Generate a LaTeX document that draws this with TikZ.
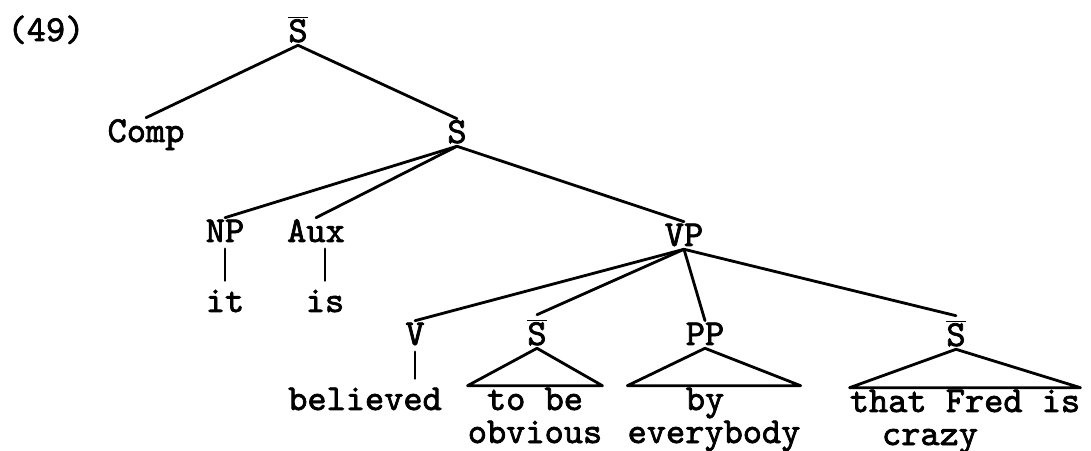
\documentclass[tikz,border=0pt]{standalone}
\usepackage{fontspec}
\newfontfamily\typewriter{lmmono10-regular.otf}[FakeBold=2]
\usetikzlibrary{calc}
\newcommand{\Sbar}{$\overline{\hbox{S}}$}

\begin{document}
\begin{tikzpicture}[x=0.025cm,y=-0.025cm,
  cat/.style={font=\typewriter\fontsize{26}{28}\selectfont,anchor=base,
    inner xsep=0pt,inner ysep=0.05cm,text height=0.55cm,text depth=0.025cm},
  barcat/.style={cat,text height=0.7cm},
  branch/.style={line width=2pt,line cap=round},
  unary/.style={branch,shorten <=0.09cm,shorten >=0.18cm},
  roof/.style={line width=2pt,line join=round}]
\useasboundingbox (0,0) rectangle (1091,451);

\node[cat] (num) at (46,41) {(49)};
\node[barcat] (top) at (298,42) {\Sbar};
\node[cat] (comp) at (146,142) {Comp};
\node[cat] (s) at (457,143) {S};
\node[cat] (np) at (225,242) {NP};
\node[cat] (aux) at (316,242) {Aux};
\node[cat] (vp) at (684,246) {VP};
\node[cat] (it) at (225,312) {it};
\node[cat] (is) at (325,312) {is};
\node[cat] (v) at (415,345) {V};
\node[barcat] (sb2) at (537,345) {\Sbar};
\node[cat] (pp) at (705,345) {PP};
\node[barcat] (sb3) at (956,346) {\Sbar};
\node[cat] (believed) at (365,410) {believed};
\node[cat] (tobe) at (535,410) {to be};
\node[cat] (obvious) at (535,443) {obvious};
\node[cat] (by) at (705,410) {by};
\node[cat] (everybody) at (714,443) {everybody};
\node[cat] (fred) at (965,412) {that Fred is};
\node[cat] (crazy) at (930,445) {crazy};

\foreach \p/\c in {top/comp,top/s,s/np,s/aux,s/vp,vp/v,vp/sb2,vp/pp,vp/sb3}
  \draw[branch] (\p.south) -- (\c.north);

\draw[unary] (np.south) -- (it.north);
\draw[unary] (aux.south -| is.north) -- (is.north);
\draw[unary] (v.south) -- (v.south |- believed.north);

\draw[roof] (sb2.south) -- (obvious.west |- tobe.north) -- (obvious.east |- tobe.north) -- cycle;
\draw[roof] (pp.south) -- (everybody.west |- by.north) -- (everybody.east |- by.north) -- cycle;
\draw[roof] (sb3.south) -- (fred.north west) -- (fred.north east) -- cycle;
\end{tikzpicture}
\end{document}
